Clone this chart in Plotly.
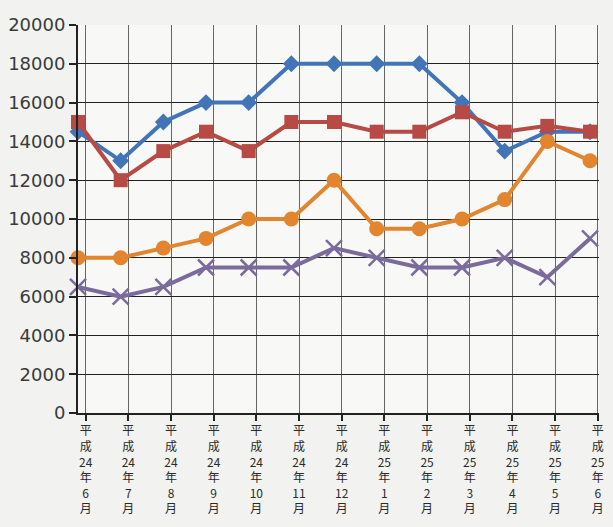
import plotly.graph_objects as go

months = ["平<br>成<br>24<br>年<br>6<br>月", "平<br>成<br>24<br>年<br>7<br>月", "平<br>成<br>24<br>年<br>8<br>月",
          "平<br>成<br>24<br>年<br>9<br>月", "平<br>成<br>24<br>年<br>10<br>月", "平<br>成<br>24<br>年<br>11<br>月",
          "平<br>成<br>24<br>年<br>12<br>月", "平<br>成<br>25<br>年<br>1<br>月", "平<br>成<br>25<br>年<br>2<br>月",
          "平<br>成<br>25<br>年<br>3<br>月", "平<br>成<br>25<br>年<br>4<br>月", "平<br>成<br>25<br>年<br>5<br>月",
          "平<br>成<br>25<br>年<br>6<br>月"]

blue = [14500, 13000, 15000, 16000, 16000, 18000, 18000, 18000, 18000, 16000, 13500, 14500, 14500]
red = [15000, 12000, 13500, 14500, 13500, 15000, 15000, 14500, 14500, 15500, 14500, 14800, 14500]
orange = [8000, 8000, 8500, 9000, 10000, 10000, 12000, 9500, 9500, 10000, 11000, 14000, 13000]
purple = [6500, 6000, 6500, 7500, 7500, 7500, 8500, 8000, 7500, 7500, 8000, 7000, 9000]

y_ticks = [0, 2000, 4000, 6000, 8000, 10000, 12000, 14000, 16000, 18000, 20000]

idx = list(range(len(months)))
tick_pos = [i + 0.18 for i in idx]

fig = go.Figure()

series = [
    (blue, "#4275b8", "diamond", 13, None),
    (red, "#b84a45", "square", 14, None),
    (orange, "#e2852e", "circle", 15, None),
    (purple, "#7b6a9c", "x-thin", 16, 2.5),
]
for vals, col, sym, size, lw in series:
    marker = dict(symbol=sym, size=size, color=col)
    if lw:
        marker["line"] = dict(color=col, width=lw)
    fig.add_trace(go.Scatter(
        x=idx, y=vals, mode="lines+markers",
        line=dict(color=col, width=4),
        marker=marker, cliponaxis=False, showlegend=False,
    ))

fig.update_layout(
    width=613, height=527,
    margin=dict(l=76, r=8, t=25, b=114),
    paper_bgcolor="#f2f3f0",
    plot_bgcolor="#f8f9f6",
    font=dict(family="DejaVu Sans, sans-serif", color="#333333"),
)
fig.update_xaxes(
    range=[0, 12.21],
    tickmode="array", tickvals=tick_pos, ticktext=months,
    tickfont=dict(family="Noto Sans CJK JP", size=12, color="#2a2a2a"),
    showgrid=True, gridcolor="#666666", gridwidth=1,
    ticks="outside", ticklen=6, tickcolor="#222222", tickwidth=1.5,
    showline=True, linecolor="#222222", linewidth=2,
    zeroline=False,
)
fig.update_yaxes(
    range=[0, 20000],
    tickmode="array", tickvals=y_ticks, ticktext=[str(v) for v in y_ticks],
    tickfont=dict(family="DejaVu Sans", size=18, color="#3a3a3a"),
    showgrid=True, gridcolor="#222222", gridwidth=1.3,
    ticks="outside", ticklen=7, tickcolor="#222222", tickwidth=1.5,
    showline=True, linecolor="#222222", linewidth=2,
    zeroline=False,
)

fig.write_html("out.html", config={"displayModeBar": False},
               post_script="document.body.style.margin='0';document.body.style.overflow='hidden';")
